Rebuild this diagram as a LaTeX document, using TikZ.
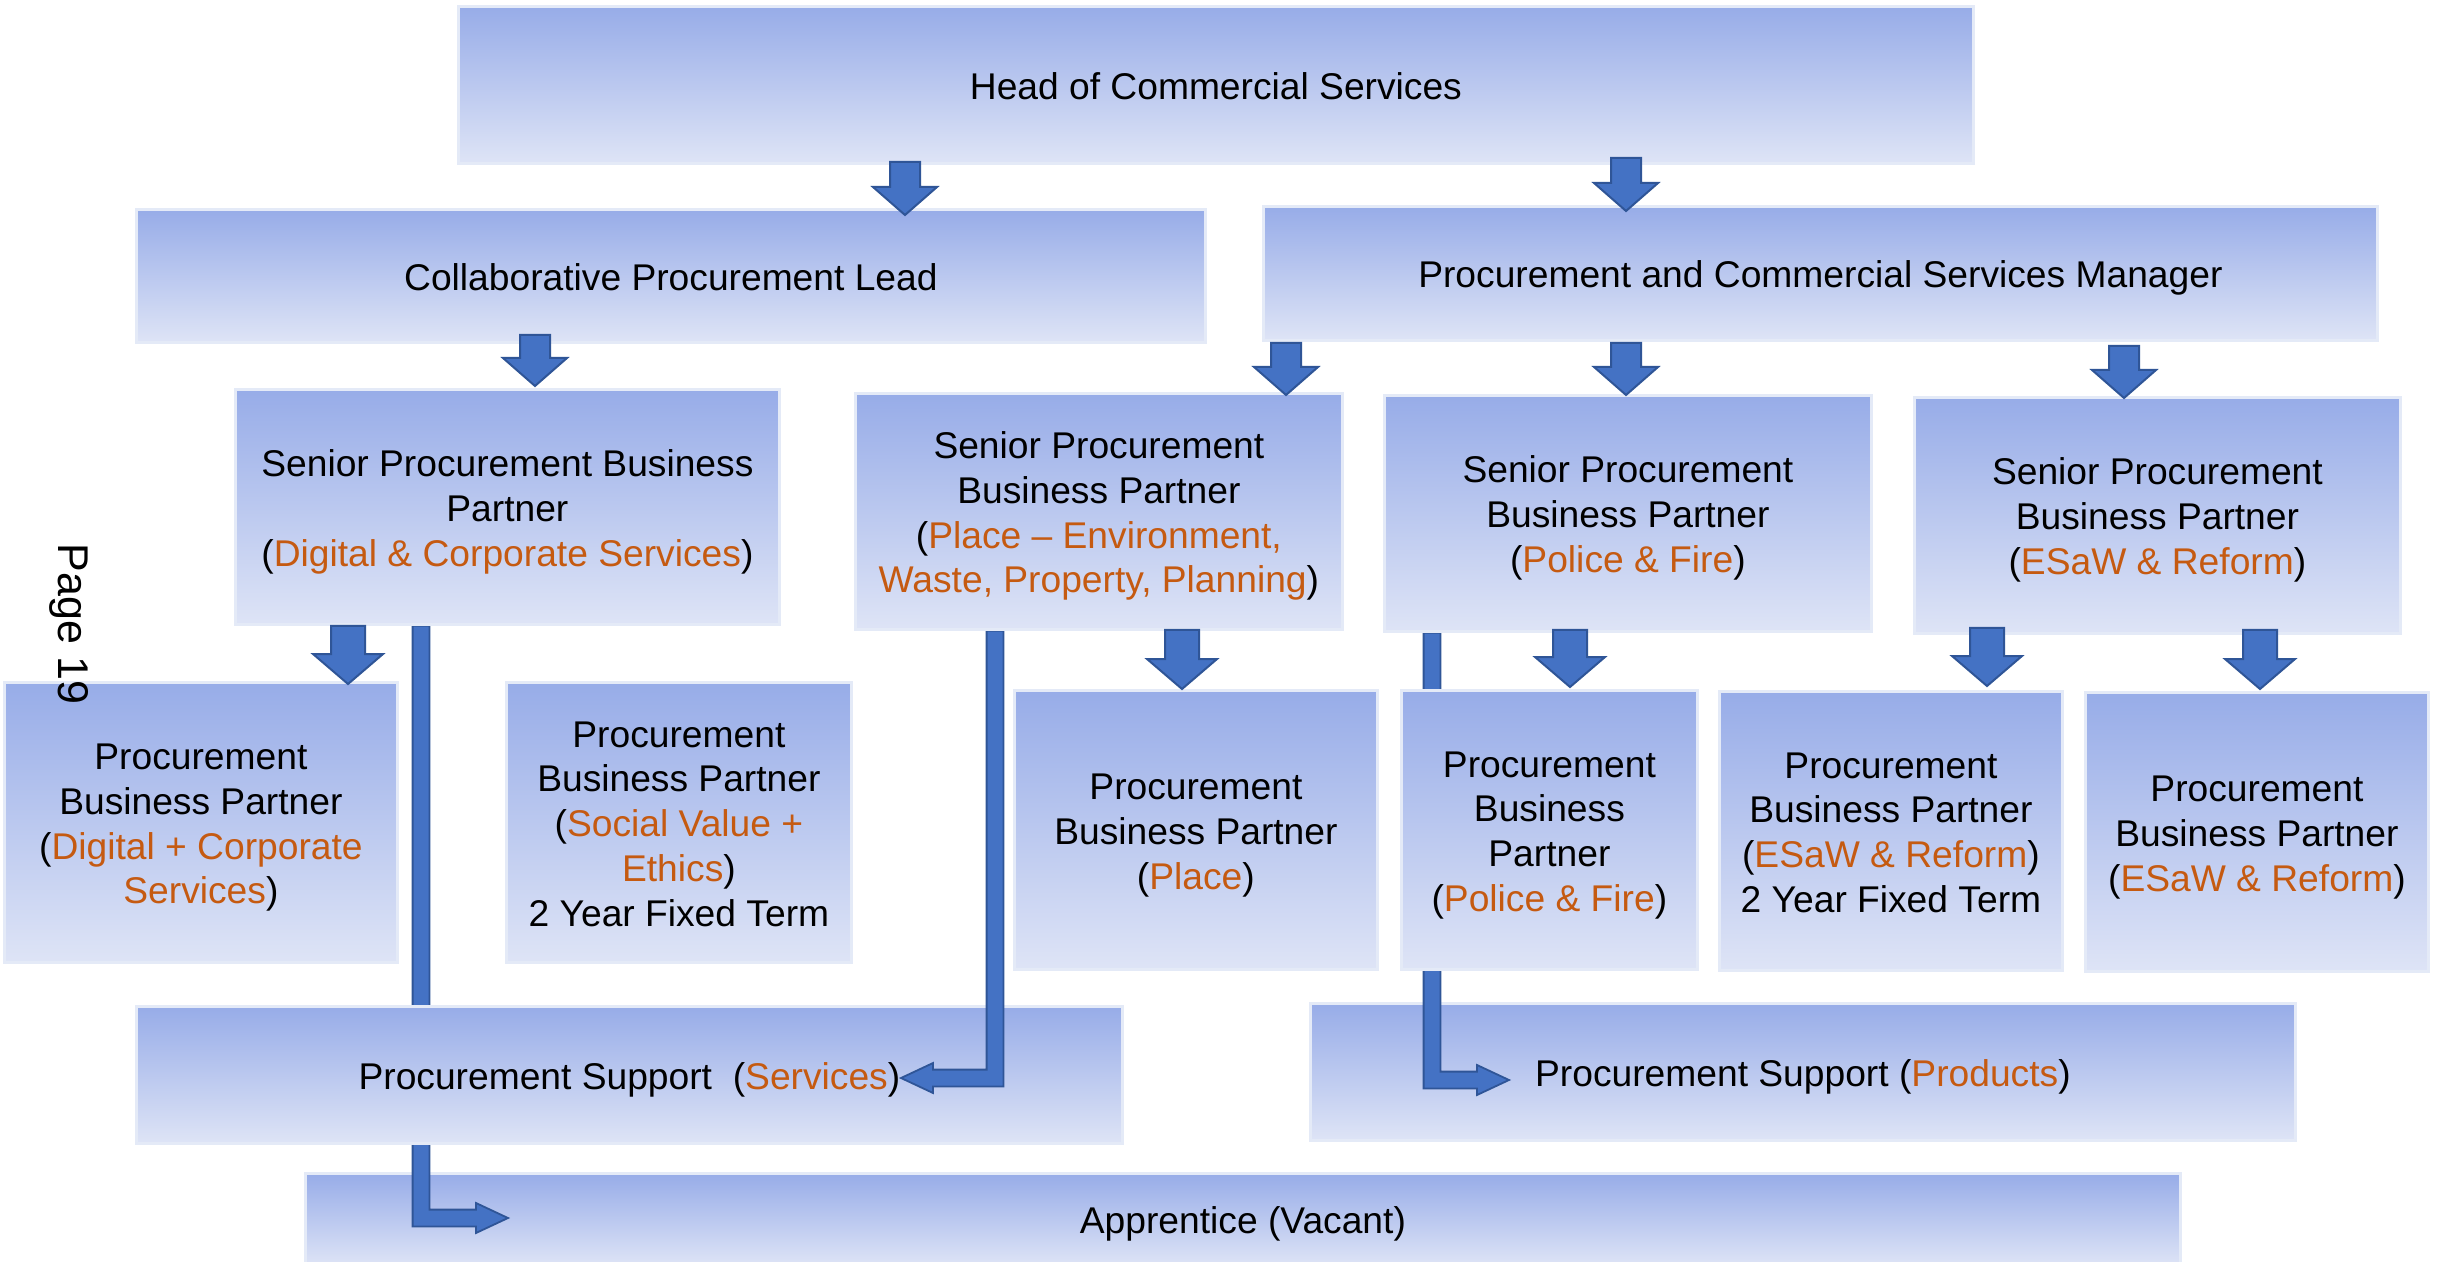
\documentclass[tikz,border=0pt]{standalone}
\usepackage{fontspec}
\setmainfont{Liberation Sans}
\usetikzlibrary{calc}

\definecolor{accent}{RGB}{197,90,17}
\definecolor{arrfill}{RGB}{68,114,196}
\definecolor{arrline}{RGB}{47,85,151}
\definecolor{boxtop}{RGB}{151,172,232}
\definecolor{boxbot}{RGB}{222,228,246}
\definecolor{boxedge}{RGB}{228,234,247}

\newcommand{\orng}[1]{\textcolor{accent}{#1}}
% fixed line height and depth so every box centres its text the same way
\newcommand{\ls}{\rule[-4pt]{0pt}{22.3pt}}

% block arrow pointing down: top centre, tip, half shaft, half head, head length
\newcommand{\blockdown}[5]{%
  \draw[blockarrow] let \p1=(#1), \p2=(#2) in
    (\x1-#3,\y1) -- (\x1+#3,\y1) -- (\x1+#3,\y2+#5) -- (\x1+#4,\y2+#5) --
    (\x1,\y2) -- (\x1-#4,\y2+#5) -- (\x1-#3,\y2+#5) -- cycle;}

% elbow arrows: down from a start point, then sideways to a tip
\newcommand{\elbowright}[2]{%
  \draw[elbowlink] let \p1=(#1), \p2=(#2) in
    (\x1-4.2pt,\y1) -- (\x1+4.2pt,\y1) -- (\x1+4.2pt,\y2+4.2pt) --
    (\x2-16pt,\y2+4.2pt) -- (\x2-16pt,\y2+7.5pt) -- (\x2,\y2) --
    (\x2-16pt,\y2-7.5pt) -- (\x2-16pt,\y2-4.2pt) -- (\x1-4.2pt,\y2-4.2pt) -- cycle;}
\newcommand{\elbowleft}[2]{%
  \draw[elbowlink] let \p1=(#1), \p2=(#2) in
    (\x1+4.2pt,\y1) -- (\x1-4.2pt,\y1) -- (\x1-4.2pt,\y2+4.2pt) --
    (\x2+16pt,\y2+4.2pt) -- (\x2+16pt,\y2+7.5pt) -- (\x2,\y2) --
    (\x2+16pt,\y2-7.5pt) -- (\x2+16pt,\y2-4.2pt) -- (\x1+4.2pt,\y2-4.2pt) -- cycle;}

\pgfdeclarelayer{paper}
\pgfdeclarelayer{lowbox}
\pgfdeclarelayer{lowlink}
\pgfdeclarelayer{midbox}
\pgfdeclarelayer{midlink}
\pgfdeclarelayer{front}
\pgfsetlayers{paper,lowbox,lowlink,midbox,midlink,main,front}

\begin{document}
\begin{tikzpicture}[x=0.5pt,y=-0.5pt,
  box/.style={rectangle, anchor=north west, top color=boxtop, bottom color=boxbot,
    draw=boxedge, line width=1.4pt, align=center, inner sep=0pt,
    font=\fontsize{18.6}{22.4}\selectfont},
  blockarrow/.style={fill=arrfill, draw=arrline, line width=1pt, line join=miter},
  elbowlink/.style={fill=arrfill, draw=arrline, line width=0.9pt, line join=miter},
]
\useasboundingbox (0,0) rectangle (2440,1262);
\begin{pgfonlayer}{paper}
  \fill[white] (0,0) rectangle (2440,1262);
\end{pgfonlayer}

% lowest row of boxes
\begin{pgfonlayer}{lowbox}
  \node[box, minimum width=937.5pt, minimum height=46pt] (appr) at (304,1172)
    {\ls Apprentice (Vacant)\ls};
  \node[box, minimum width=492.5pt, minimum height=68.5pt] (psp) at (1309,1002)
    {\ls Procurement Support (\orng{Products})\ls};
\end{pgfonlayer}

\begin{pgfonlayer}{midbox}
  \node[box, minimum width=493pt, minimum height=68.5pt] (pss) at (135,1005)
    {\ls Procurement Support\ \ (\orng{Services})\ls};
\end{pgfonlayer}

% management tiers
\node[box, minimum width=757.5pt, minimum height=78.5pt] (head) at (457,5)
  {\ls Head of Commercial Services\ls};
\node[box, minimum width=534.5pt, minimum height=66.5pt] (cpl) at (135,208)
  {\ls Collaborative Procurement Lead\ls};
\node[box, minimum width=557pt, minimum height=67pt] (pcsm) at (1262,205)
  {\ls Procurement and Commercial Services Manager\ls};

% senior business partners
\node[box, minimum width=272pt, minimum height=117.5pt] (spd) at (234,388)
  {\ls Senior Procurement Business\\Partner\\(\orng{Digital \& Corporate Services})\ls};
\node[box, minimum width=243.5pt, minimum height=118pt] (spp) at (854,392)
  {\ls Senior Procurement\\Business Partner\\(\orng{Place – Environment,}\\\orng{Waste, Property, Planning})\ls};
\node[box, minimum width=243.5pt, minimum height=118pt] (spf) at (1383,394)
  {\ls Senior Procurement\\Business Partner\\(\orng{Police \& Fire})\ls};
\node[box, minimum width=243pt, minimum height=118pt] (spe) at (1913,396)
  {\ls Senior Procurement\\Business Partner\\(\orng{ESaW \& Reform})\ls};

% business partners
\node[box, minimum width=196.5pt, minimum height=140pt] (pbd) at (3,681)
  {\ls Procurement\\Business Partner\\(\orng{Digital + Corporate}\\\orng{Services})\ls};
\node[box, minimum width=172.5pt, minimum height=140pt] (pbs) at (505,681)
  {\ls Procurement\\Business Partner\\(\orng{Social Value +}\\\orng{Ethics})\\2 Year Fixed Term\ls};
\node[box, minimum width=181.5pt, minimum height=139.5pt] (pbp) at (1013,689)
  {\ls Procurement\\Business Partner\\(\orng{Place})\ls};
\node[box, minimum width=148pt, minimum height=139.5pt] (pbf) at (1400,689)
  {\ls Procurement\\Business\\Partner\\(\orng{Police \& Fire})\ls};
\node[box, minimum width=171.5pt, minimum height=139.5pt] (pbe2) at (1718,690)
  {\ls Procurement\\Business Partner\\(\orng{ESaW \& Reform})\\2 Year Fixed Term\ls};
\node[box, minimum width=171.5pt, minimum height=139.5pt] (pbe) at (2084,691)
  {\ls Procurement\\Business Partner\\(\orng{ESaW \& Reform})\ls};

% elbow links to the support teams
\coordinate (dS) at ($(spd.south west)+(187,0)$);
\coordinate (dT) at ($(appr.north west)+(204,46)$);
\coordinate (pS) at ($(spp.south west)+(141,0)$);
\coordinate (pT) at ($(pss.north west)+(766,73)$);
\coordinate (fS) at ($(spf.south west)+(49,0)$);
\coordinate (fT) at ($(psp.north west)+(200,78)$);
\begin{pgfonlayer}{lowlink}
  \elbowright{dS}{dT}
\end{pgfonlayer}
\begin{pgfonlayer}{midlink}
  \elbowleft{pS}{pT}
  \elbowright{fS}{fT}
\end{pgfonlayer}

% reporting arrows
\coordinate (a1s) at ($(head.south west)+(448,-3)$);
\coordinate (a1t) at ($(a1s |- cpl.north)+(0,7)$);
\coordinate (a2s) at ($(head.south west)+(1169,-7)$);
\coordinate (a2t) at ($(a2s |- pcsm.north)+(0,6)$);
\coordinate (a3s) at ($(cpl.south west)+(400,-9)$);
\coordinate (a3t) at ($(a3s |- spd.north)+(0,-2)$);
\coordinate (a4s) at ($(pcsm.south west)+(24,1)$);
\coordinate (a4t) at ($(a4s |- spp.north)+(0,3)$);
\coordinate (a5s) at ($(pcsm.south west)+(364,1)$);
\coordinate (a5t) at ($(a5s |- spf.north)+(0,1)$);
\coordinate (a6s) at ($(pcsm.south west)+(862,4)$);
\coordinate (a6t) at ($(a6s |- spe.north)+(0,2)$);
\coordinate (a7s) at ($(spd.south west)+(114,0)$);
\coordinate (a7t) at ($(a7s |- pbd.north)+(0,3)$);
\coordinate (a8s) at ($(spp.south west)+(328,-1)$);
\coordinate (a8t) at (a8s |- pbp.north);
\coordinate (a9s) at ($(spf.south west)+(187,-3)$);
\coordinate (a9t) at ($(a9s |- pbf.north)+(0,-2)$);
\coordinate (a10s) at ($(spe.south west)+(74,-7)$);
\coordinate (a10t) at ($(a10s |- pbe2.north)+(0,-4)$);
\coordinate (a11s) at ($(spe.south west)+(347,-5)$);
\coordinate (a11t) at ($(a11s |- pbe.north)+(0,-2)$);

\begin{pgfonlayer}{front}
  \blockdown{a1s}{a1t}{7.5pt}{16pt}{14pt}
  \blockdown{a2s}{a2t}{7.5pt}{16pt}{14pt}
  \blockdown{a3s}{a3t}{7.5pt}{16pt}{14pt}
  \blockdown{a4s}{a4t}{7.5pt}{16pt}{14pt}
  \blockdown{a5s}{a5t}{7.5pt}{16pt}{14pt}
  \blockdown{a6s}{a6t}{7.5pt}{16pt}{14pt}
  \blockdown{a7s}{a7t}{8.5pt}{17.5pt}{15pt}
  \blockdown{a8s}{a8t}{8.5pt}{17.5pt}{15pt}
  \blockdown{a9s}{a9t}{8.5pt}{17.5pt}{15pt}
  \blockdown{a10s}{a10t}{8.5pt}{17.5pt}{15pt}
  \blockdown{a11s}{a11t}{8.5pt}{17.5pt}{15pt}
  \node[rotate=-90, font=\fontsize{21.5}{25}\selectfont, inner sep=0pt] (pageno) at (69,624) {Page 19};
\end{pgfonlayer}
\end{tikzpicture}
\end{document}
